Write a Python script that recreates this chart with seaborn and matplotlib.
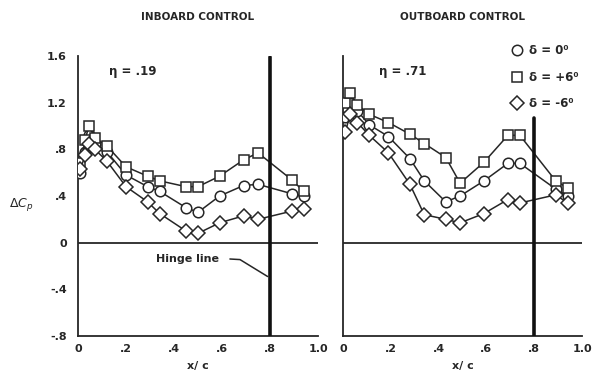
import numpy as np
import pandas as pd
import matplotlib
matplotlib.use("Agg")
import matplotlib.pyplot as plt
import seaborn as sns
from matplotlib.lines import Line2D

sns.set_theme(style="white")
plt.rcParams['font.family'] = ['DejaVu Sans']

# ---------------- data ----------------
x_in = [0.01, 0.03, 0.045, 0.07, 0.12, 0.20, 0.29, 0.34, 0.45, 0.50, 0.59, 0.69, 0.75, 0.89, 0.94]
in_d0 = [0.60, 0.78, 0.92, 0.85, 0.78, 0.58, 0.48, 0.44, 0.30, 0.26, 0.40, 0.49, 0.50, 0.42, 0.40]
in_dp6 = [0.68, 0.88, 1.00, 0.90, 0.83, 0.65, 0.57, 0.53, 0.48, 0.48, 0.57, 0.71, 0.77, 0.54, 0.44]
in_dm6 = [0.63, 0.75, 0.85, 0.80, 0.70, 0.48, 0.35, 0.25, 0.10, 0.08, 0.17, 0.23, 0.20, 0.27, 0.29]

x_out = [0.01, 0.03, 0.06, 0.11, 0.19, 0.28, 0.34, 0.43, 0.49, 0.59, 0.69, 0.74, 0.89, 0.94]
out_d0 = [1.08, 1.20, 1.13, 1.01, 0.91, 0.72, 0.53, 0.35, 0.40, 0.53, 0.68, 0.68, 0.46, 0.40]
out_dp6 = [1.20, 1.28, 1.18, 1.10, 1.03, 0.93, 0.85, 0.73, 0.51, 0.69, 0.92, 0.92, 0.53, 0.47]
out_dm6 = [0.95, 1.10, 1.03, 0.92, 0.77, 0.50, 0.24, 0.20, 0.17, 0.25, 0.37, 0.34, 0.41, 0.34]

series_labels = ["δ = 0⁰", "δ = +6⁰", "δ = -6⁰"]
series_markers = ["o", "s", "D"]
hinge_x = 0.8
hinge_top = [1.59, 1.07]
y_ticks = [1.6, 1.2, 0.8, 0.4, 0.0, -0.4, -0.8]
y_ticklabels = ["1.6", "1.2", ".8", ".4", "0", "-.4", "-.8"]
x_ticks = [0.0, 0.2, 0.4, 0.6, 0.8, 1.0]
x_ticklabels = ["0", ".2", ".4", ".6", ".8", "1.0"]
titles = ["INBOARD CONTROL", "OUTBOARD CONTROL"]
eta_labels = ["η = .19", "η = .71"]

ink = "#262626"

fig = plt.figure(figsize=(5.94, 3.81), dpi=100)
ax1 = fig.add_axes([78/594, 1-336/381, 240/594, 280/381])
ax2 = fig.add_axes([343/594, 1-336/381, 239/594, 280/381])

panels = [
    (ax1, x_in, [in_d0, in_dp6, in_dm6]),
    (ax2, x_out, [out_d0, out_dp6, out_dm6]),
]

fs = 8
for i, (ax, xs, ys_list) in enumerate(panels):
    for ys, mk, lab in zip(ys_list, series_markers, series_labels):
        df = pd.DataFrame({"x": xs, "y": ys})
        ms = 7.0 if mk == "D" else 7.6
        sns.lineplot(data=df, x="x", y="y", ax=ax, color=ink, lw=1.1,
                     marker=mk, markersize=ms, mfc="white", mec=ink, mew=1.1,
                     sort=False, estimator=None, legend=False, zorder=3)
    ax.axhline(0, color=ink, lw=1.3, zorder=1)
    ax.plot([hinge_x, hinge_x], [-0.8, hinge_top[i]], color="#111111", lw=2.6, zorder=4)
    ax.set_xlim(0, 1.0)
    ax.set_ylim(-0.8, 1.6)
    for s in ["top", "right"]:
        ax.spines[s].set_visible(False)
    for s in ["left", "bottom"]:
        ax.spines[s].set_color(ink)
        ax.spines[s].set_linewidth(1.3)
    ax.set_yticks(y_ticks)
    ax.set_xticks(x_ticks)
    ax.set_xticklabels(x_ticklabels, fontsize=fs, fontweight="bold", color=ink)
    if i == 0:
        ax.set_yticklabels(y_ticklabels, fontsize=fs, fontweight="bold", color=ink)
    else:
        ax.set_yticklabels([])
    ax.tick_params(axis="both", direction="in", length=5, width=1.2, color=ink)
    ax.tick_params(axis="x", pad=6)
    ax.tick_params(axis="y", pad=8)
    ax.set_xlabel("x/ c", fontsize=fs, fontweight="bold", color=ink, labelpad=5)
    ax.set_ylabel("")
    ax.set_title(titles[i], fontsize=fs - 0.5, fontweight="bold", color=ink, pad=26)
    ax.text(0.13 if i == 0 else 0.15, 1.47, eta_labels[i], fontsize=fs + 0.5,
            fontweight="bold", color=ink, va="center")

ax1.text(-0.235, 0.33, r"$\Delta C_p$", fontsize=fs + 1, color=ink,
         ha="center", va="center")

# hinge line annotation
ax1.text(0.455, -0.14, "Hinge line", fontsize=fs, fontweight="bold",
         color=ink, ha="center", va="center")
ax1.plot([0.633, 0.675, 0.79], [-0.14, -0.145, -0.29], color=ink, lw=1.1)

handles = [Line2D([], [], ls="none", marker=m, ms=7.5 if m != "D" else 7,
                  mfc="white", mec=ink, mew=1.1) for m in series_markers]
leg = ax2.legend(handles, series_labels, loc="upper right",
                 bbox_to_anchor=(1.03, 1.08), frameon=False,
                 fontsize=fs + 0.5, handletextpad=0.5, labelspacing=1.15,
                 handlelength=1.0)
for t in leg.get_texts():
    t.set_color(ink)
    t.set_fontweight("bold")

fig.savefig("out.png", dpi=100)
